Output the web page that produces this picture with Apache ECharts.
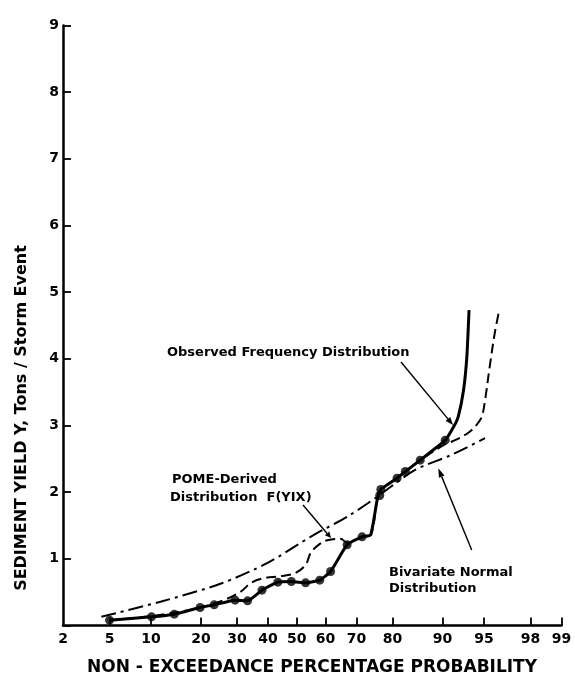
<!DOCTYPE html>
<html>
<head>
<meta charset="utf-8">
<script src="https://cdn.jsdelivr.net/npm/echarts@6/dist/echarts.min.js"></script>
<style>
html,body{margin:0;padding:0;background:#fff;}
#main{width:575px;height:680px;}
</style>
</head>
<body>
<div id="main"></div>
<script>
// ---------- data (x in non-exceedance %, y in tons/storm event) ----------
const xTickLabels = [2, 5, 10, 20, 30, 40, 50, 60, 70, 80, 90, 95, 98, 99];
const yTickLabels = [1, 2, 3, 4, 5, 6, 7, 8, 9];

const observedDots = [
  [5.0,0.08],[10.1,0.13],[14.1,0.17],[19.8,0.27],[23.4,0.31],[29.4,0.38],[33.3,0.37],
  [38.0,0.53],[43.4,0.65],[48.1,0.66],[53.1,0.64],[58.0,0.68],[61.7,0.81],[67.1,1.21],
  [71.7,1.33],[76.7,1.95],[77.0,2.04],[81.1,2.21],[83.0,2.31],[86.1,2.48],[90.4,2.78]
];
const observedCurve = [
  [5.0,0.08],[10.1,0.13],[14.1,0.17],[19.8,0.27],[23.4,0.31],[29.4,0.38],[33.3,0.37],
  [38.0,0.53],[43.4,0.65],[48.1,0.66],[53.1,0.64],[58.0,0.68],[61.7,0.81],[67.1,1.21],
  [71.7,1.33],[74.2,1.36],[76.0,1.88],[77.0,2.04],[81.1,2.21],[83.0,2.31],[86.1,2.48],
  [90.4,2.78],[91.6,2.98],[92.2,3.13],[92.86,3.53],[93.25,4.03],[93.5,4.73]
];
const pomeCurve = [
  [5.0,0.08],[10.0,0.14],[20.0,0.27],[27.0,0.40],[31.2,0.51],[34.4,0.64],[38.6,0.71],
  [44.4,0.74],[49.6,0.79],[53.1,0.91],[54.9,1.09],[57.6,1.21],[60.6,1.28],[65.0,1.30],
  [67.1,1.24],[71.7,1.33],[74.2,1.36],[76.0,1.88],[77.0,2.04],[81.1,2.21],[86.1,2.48],
  [90.4,2.72],[91.4,2.76],[93.3,2.88],[94.3,3.01],[94.8,3.13],[95.1,3.38],[95.5,3.88],
  [95.9,4.38],[96.25,4.74]
];
const bivariateCurve = [
  [4.3,0.13],[11.7,0.36],[25.3,0.63],[39.9,0.94],[56.0,1.36],[67.1,1.63],[76.0,1.93],
  [85.0,2.33],[91.1,2.55],[95.1,2.81]
];

// ---------- normal probability (probit) scale ----------
function probit(p) {
  const a=[-3.969683028665376e+01,2.209460984245205e+02,-2.759285104469687e+02,1.383577518672690e+02,-3.066479806614716e+01,2.506628277459239e+00];
  const b=[-5.447609879822406e+01,1.615858368580409e+02,-1.556989798598866e+02,6.680131188771972e+01,-1.328068155288572e+01];
  const c=[-7.784894002430293e-03,-3.223964580411365e-01,-2.400758277161838e+00,-2.549732539343734e+00,4.374664141464968e+00,2.938163982698783e+00];
  const d=[7.784695709041462e-03,3.224671290700398e-01,2.445134137142996e+00,3.754408661907416e+00];
  const plow=0.02425, phigh=1-plow;
  let q, r;
  if (p < plow) { q=Math.sqrt(-2*Math.log(p)); return (((((c[0]*q+c[1])*q+c[2])*q+c[3])*q+c[4])*q+c[5])/((((d[0]*q+d[1])*q+d[2])*q+d[3])*q+1); }
  if (p <= phigh) { q=p-0.5; r=q*q; return (((((a[0]*r+a[1])*r+a[2])*r+a[3])*r+a[4])*r+a[5])*q/(((((b[0]*r+b[1])*r+b[2])*r+b[3])*r+b[4])*r+1); }
  q=Math.sqrt(-2*Math.log(1-p)); return -(((((c[0]*q+c[1])*q+c[2])*q+c[3])*q+c[4])*q+c[5])/((((d[0]*q+d[1])*q+d[2])*q+d[3])*q+1);
}
const toZ = pts => pts.map(([p, y]) => [probit(p / 100), y]);
const xTickZ = xTickLabels.map(p => probit(p / 100));
const labelByZ = {};
xTickLabels.forEach((p, i) => { labelByZ[xTickZ[i].toFixed(5)] = String(p); });

// ---------- annotation helpers ----------
const FONT = '"DejaVu Sans", "Liberation Sans", sans-serif';
function arrow(x1, y1, x2, y2, head) {
  const ang = Math.atan2(y2 - y1, x2 - x1), L = head || 8, W = 3;
  const bx = x2 - L * Math.cos(ang), by = y2 - L * Math.sin(ang);
  const nx = -Math.sin(ang) * W, ny = Math.cos(ang) * W;
  return [
    { type: 'line', shape: { x1, y1, x2: bx, y2: by }, style: { stroke: '#000', lineWidth: 1.4 } },
    { type: 'polygon', shape: { points: [[x2, y2], [bx + nx, by + ny], [bx - nx, by - ny]] }, style: { fill: '#000' } }
  ];
}
function label(x, y, text, size, align, rotation) {
  const g = { type: 'text', x, y, style: { text, fill: '#000', font: 'bold ' + size + 'px ' + FONT, align: align || 'left', verticalAlign: 'middle' } };
  if (rotation) g.rotation = rotation;
  return g;
}

const chart = echarts.init(document.getElementById('main'), null, { renderer: 'canvas' });
chart.setOption({
  backgroundColor: '#fff',
  animation: false,
  grid: { left: 63, right: 13.5, top: 25.5, bottom: 54.5, containLabel: false, outerBoundsMode: 'none' },
  xAxis: {
    type: 'value',
    min: probit(xTickLabels[0] / 100),
    max: probit(xTickLabels[xTickLabels.length - 1] / 100),
    axisLine: { onZero: false, lineStyle: { color: '#000', width: 2.5 } },
    axisTick: { inside: true, length: 8, lineStyle: { color: '#000', width: 1.8 }, customValues: xTickZ.slice(1) },
    axisLabel: {
      customValues: xTickZ, showMinLabel: true, showMaxLabel: true, margin: 7,
      color: '#000', fontFamily: FONT, fontWeight: 'bold', fontSize: 14,
      formatter: v => labelByZ[v.toFixed(5)] || ''
    },
    splitLine: { show: false }
  },
  yAxis: {
    type: 'value', min: 0, max: 9, interval: 1,
    axisLine: { show: true, onZero: false, lineStyle: { color: '#000', width: 2.5 } },
    axisTick: { show: true, inside: true, length: 8, lineStyle: { color: '#000', width: 1.8 } },
    axisLabel: {
      margin: 4, color: '#000', fontFamily: FONT, fontWeight: 'bold', fontSize: 14,
      formatter: v => (yTickLabels.indexOf(v) >= 0 ? String(v) : '')
    },
    splitLine: { show: false }
  },
  series: [
    { name: 'Bivariate Normal Distribution', type: 'line', data: toZ(bivariateCurve), smooth: 0.3, symbol: 'none',
      lineStyle: { color: '#000', width: 2, type: [15, 5, 3, 5] }, z: 2 },
    { name: 'POME-Derived Distribution F(Y|X)', type: 'line', data: toZ(pomeCurve), smooth: 0.35, symbol: 'none',
      lineStyle: { color: '#000', width: 2, type: [10, 5] }, z: 3 },
    { name: 'Observed Frequency Distribution', type: 'line', data: toZ(observedCurve), smooth: 0.15, symbol: 'none',
      lineStyle: { color: '#000', width: 3 }, z: 4 },
    { name: 'Observed points', type: 'scatter', data: toZ(observedDots), symbol: 'circle', symbolSize: 9,
      itemStyle: { color: '#000' }, z: 5 }
  ],
  graphic: [
    label(167, 353, 'Observed Frequency Distribution', 13),
    ...arrow(401, 362, 453, 425, 8),
    label(172, 480, 'POME-Derived', 13),
    label(170, 498, 'Distribution  F(YIX)', 13),
    ...arrow(303, 505, 331, 538, 6),
    label(389, 573, 'Bivariate Normal', 13),
    label(389, 589, 'Distribution', 13),
    ...arrow(471.7, 550, 438.3, 468.3, 9),
    label(312, 668, 'NON - EXCEEDANCE PERCENTAGE PROBABILITY', 17, 'center'),
    label(22, 418, 'SEDIMENT YIELD Y, Tons / Storm Event', 16, 'center', Math.PI / 2)
  ]
});
</script>
</body>
</html>
